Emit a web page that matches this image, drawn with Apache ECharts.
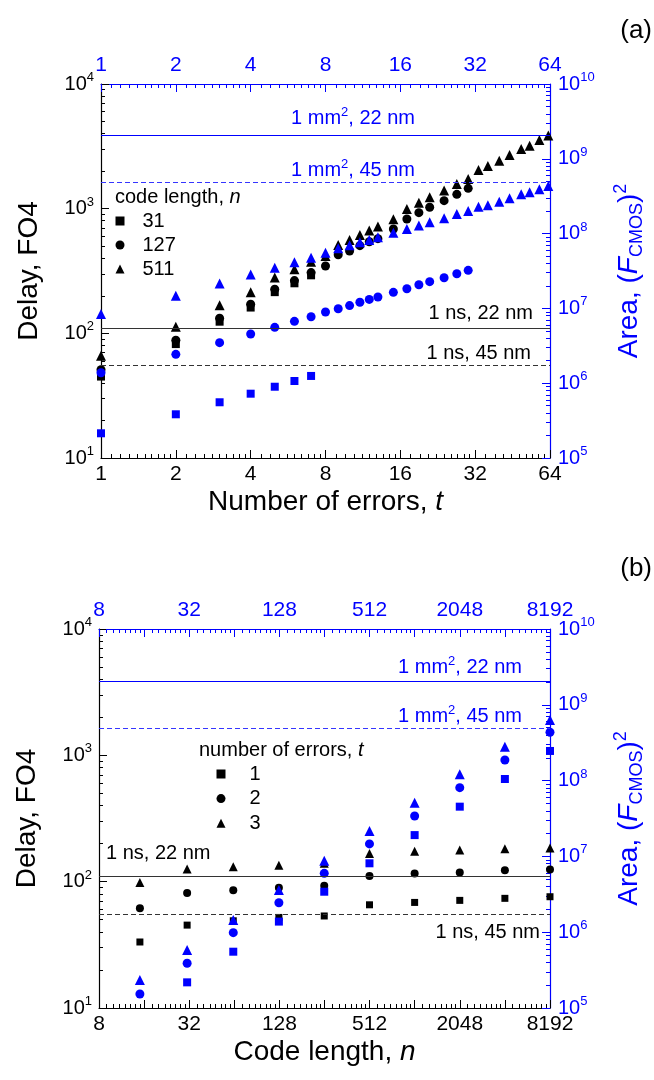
<!DOCTYPE html>
<html><head><meta charset="utf-8">
<script src="https://cdn.jsdelivr.net/npm/echarts@6/dist/echarts.min.js"></script>
<style>html,body{margin:0;padding:0;background:#fff}#c{width:654px;height:1080px}</style>
</head><body><div id="c"></div>
<script>
// ---------- DATA ----------
// Panel (a): x = number of errors t
const tN31  = [1,2,3,4,5,6,7];
const delayN31 = [45, 82, 124, 161, 214, 252, 292];
const areaN31  = [2.14e5, 3.84e5, 5.56e5, 7.24e5, 8.97e5, 1.07e6, 1.25e6];

const tN127 = [1,2,3,4,5,6,7,8,9,10,11,12,13,15,17,19,21,24,27,30];
const delayN127 = [51, 88, 132, 171, 226, 265, 307, 347, 426, 458, 505, 543, 575, 687, 826, 929, 1026, 1159, 1303, 1455];
const areaN127  = [1.38e6, 2.43e6, 3.48e6, 4.55e6, 5.58e6, 6.71e6, 7.74e6, 8.95e6, 9.91e6, 1.09e7, 1.21e7, 1.32e7, 1.42e7, 1.64e7, 1.83e7, 2.07e7, 2.28e7, 2.57e7, 2.91e7, 3.23e7];

const tN511 = [1,2,3,4,5,6,7,8,9,10,11,12,13,15,17,19,21,24,27,30,33,36,40,44,49,53,58,63];
const delayN511 = [66, 113, 168, 214, 280, 327, 376, 418, 512, 561, 615, 667, 718, 822, 995, 1117, 1233, 1396, 1578, 1730, 2042, 2198, 2427, 2698, 3013, 3199, 3556, 3855];
const areaN511  = [8.41e6, 1.48e7, 2.16e7, 2.85e7, 3.50e7, 4.13e7, 4.76e7, 5.56e7, 6.35e7, 6.97e7, 7.64e7, 8.20e7, 8.91e7, 1.03e8, 1.15e8, 1.28e8, 1.42e8, 1.60e8, 1.83e8, 2.00e8, 2.29e8, 2.39e8, 2.67e8, 2.96e8, 3.35e8, 3.56e8, 3.91e8, 4.33e8];

// Panel (b): x = code length n
const codeLengths = [15, 31, 63, 127, 255, 511, 1023, 2047, 4095, 8191];
const delayT1 = [33.3, 45.3, 49.0, 52.1, 53.5, 65.6, 68.5, 71.1, 73.8, 76.0];
const delayT2 = [61.5, 81.3, 85.7, 89.5, 92.9, 111, 116, 118, 123, 125];
const delayT3 = [98.6, 126, 131, 135, 140, 167, 174, 178, 182, 185];
const areaT1 = [null, 2.18e5, 5.53e5, 1.38e6, 3.42e6, 8.11e6, 1.91e7, 4.53e7, 1.05e8, 2.46e8];
const areaT2 = [1.53e5, 3.89e5, 9.86e5, 2.45e6, 5.98e6, 1.46e7, 3.41e7, 8.07e7, 1.87e8, 4.34e8];
const areaT3 = [2.34e5, 5.82e5, 1.45e6, 3.61e6, 8.77e6, 2.16e7, 5.11e7, 1.21e8, 2.80e8, 6.30e8];

// Reference limits
const delay1ns22 = 110, delay1ns45 = 55.5;
const area1mm22 = 2.05e9, area1mm45 = 4.9e8;

// Tick labels
const xLabelsA = [1, 2, 4, 8, 16, 32, 64];
const xLabelsB = [8, 32, 128, 512, 2048, 8192];
const legendA = ['31', '127', '511'];
const legendB = ['1', '2', '3'];

// ---------- STYLE / LAYOUT ----------
const FONT = '"Liberation Sans", Arial, Helvetica, sans-serif';
const BLUE = '#0000ff';
const BLUE_D = '#3535ff';
const BLACK = '#000000';
const GREY = '#333333';

function pairs(xs, ys) { return xs.map((x, i) => [x, ys[i]]).filter(p => p[1] != null); }

function pow2Majors(minExp, maxExp) { const r = []; for (let e = minExp; e <= maxExp; e++) r.push(Math.pow(2, e)); return r; }
function pow2Minors(minExp, maxExp, steps) {
  const r = [];
  for (let e = minExp; e < maxExp; e++) { const b = Math.pow(2, e); for (let i = 1; i < steps; i++) r.push(b * (1 + i / steps)); }
  return r;
}
function decMajors(a, b) { const r = []; for (let e = a; e <= b; e++) r.push(Math.pow(10, e)); return r; }
function decMinors(a, b) { const r = []; for (let e = a; e < b; e++) for (let k = 2; k <= 9; k++) r.push(k * Math.pow(10, e)); return r; }

const supRich = (color) => ({
  b: { fontSize: 20, lineHeight: 26, color, fontFamily: FONT },
  s: { fontSize: 13, lineHeight: 13, verticalAlign: 'top', color, fontFamily: FONT }
});
const expFmt = v => '{b|10}{s|' + Math.round(Math.log10(v)) + '}';

function makeX(gridIndex, minE, maxE, labels, minorSteps, nameRich, nameGap) {
  const min = Math.pow(2, minE), max = Math.pow(2, maxE);
  const majors = pow2Majors(minE, maxE), minors = pow2Minors(minE, maxE, minorSteps);
  const base = { gridIndex, type: 'log', logBase: 2, min, max, splitLine: { show: false }, minorTick: { show: false } };
  return [
    Object.assign({}, base, {
      position: 'bottom',
      name: nameRich, nameLocation: 'middle', nameGap,
      nameTextStyle: { fontSize: 28, color: BLACK, fontFamily: FONT,
        rich: { n: { fontSize: 28, color: BLACK, fontFamily: FONT }, i: { fontSize: 28, color: BLACK, fontFamily: FONT, fontStyle: 'italic' } } },
      axisLine: { show: true, onZero: false, lineStyle: { color: BLACK, width: 1.2 } },
      axisTick: { show: true, inside: true, length: 8, customValues: majors, lineStyle: { color: BLACK, width: 1 } },
      axisLabel: { show: true, customValues: labels, fontSize: 21, color: BLACK, fontFamily: FONT, margin: 6,
        formatter: v => String(Math.round(v)) }
    }),
    Object.assign({}, base, {
      position: 'top',
      axisLine: { show: true, onZero: false, lineStyle: { color: BLUE, width: 1.2 } },
      axisTick: { show: true, inside: true, length: 8, customValues: majors, lineStyle: { color: BLUE, width: 1 } },
      axisLabel: { show: true, customValues: labels, fontSize: 21, color: BLUE, fontFamily: FONT, margin: 8,
        formatter: v => String(Math.round(v)) }
    }),
    Object.assign({}, base, {
      position: 'bottom', axisLine: { show: false },
      axisTick: { show: true, inside: true, length: 4, customValues: minors, lineStyle: { color: BLACK, width: 1 } },
      axisLabel: { show: false }
    }),
    Object.assign({}, base, {
      position: 'top', axisLine: { show: false },
      axisTick: { show: true, inside: true, length: 4, customValues: minors, lineStyle: { color: BLUE, width: 1 } },
      axisLabel: { show: false }
    })
  ];
}

function makeY(gridIndex) {
  const base = { gridIndex, type: 'log', logBase: 10, splitLine: { show: false }, minorTick: { show: false } };
  return [
    Object.assign({}, base, {
      position: 'left', min: 10, max: 1e4,
      name: 'Delay, FO4', nameLocation: 'middle', nameGap: 58,
      nameTextStyle: { fontSize: 28, color: BLACK, fontFamily: FONT },
      axisLine: { show: true, onZero: false, lineStyle: { color: BLACK, width: 1.2 } },
      axisTick: { show: true, inside: true, length: 8, customValues: decMajors(1, 4), lineStyle: { color: BLACK } },
      axisLabel: { show: true, customValues: decMajors(1, 4), formatter: expFmt, rich: supRich(BLACK), margin: 7 }
    }),
    Object.assign({}, base, {
      position: 'right', min: 1e5, max: 1e10,
      name: '{n|Area, (}{i|F}{sub|CMOS}{n|)}{sup|2}', nameLocation: 'middle', nameGap: 62,
      nameTextStyle: { fontSize: 28, color: BLUE, fontFamily: FONT,
        rich: {
          n: { fontSize: 28, lineHeight: 34, color: BLUE, fontFamily: FONT },
          i: { fontSize: 28, lineHeight: 34, color: BLUE, fontFamily: FONT, fontStyle: 'italic' },
          sub: { fontSize: 18, lineHeight: 18, verticalAlign: 'bottom', color: BLUE, fontFamily: FONT },
          sup: { fontSize: 18, lineHeight: 18, verticalAlign: 'top', color: BLUE, fontFamily: FONT }
        } },
      axisLine: { show: true, onZero: false, lineStyle: { color: BLUE, width: 1.2 } },
      axisTick: { show: true, inside: true, length: 8, customValues: decMajors(5, 10), lineStyle: { color: BLUE } },
      axisLabel: { show: true, customValues: decMajors(5, 10), formatter: expFmt, rich: supRich(BLUE), margin: 8 }
    }),
    Object.assign({}, base, {
      position: 'left', min: 10, max: 1e4, axisLine: { show: false },
      axisTick: { show: true, inside: true, length: 4, customValues: decMinors(1, 4), lineStyle: { color: BLACK } },
      axisLabel: { show: false }
    }),
    Object.assign({}, base, {
      position: 'right', min: 1e5, max: 1e10, axisLine: { show: false },
      axisTick: { show: true, inside: true, length: 4, customValues: decMinors(5, 10), lineStyle: { color: BLUE } },
      axisLabel: { show: false }
    })
  ];
}

function scatter(name, data, xi, yi, symbol, size, color) {
  return { type: 'scatter', name, data, xAxisIndex: xi, yAxisIndex: yi, symbol, symbolSize: size,
    itemStyle: { color, opacity: 1 }, clip: true, silent: true, animation: false, emphasis: { disabled: true } };
}
// Horizontal reference line, drawn by the library at the given axis value
function refLine(value, xi, yi, color, dashed) {
  return { type: 'line', data: [], xAxisIndex: xi, yAxisIndex: yi, silent: true, animation: false,
    markLine: { silent: true, symbol: 'none', animation: false, label: { show: false },
      lineStyle: { color, width: 1.2, type: dashed ? [5, 3] : 'solid', opacity: 1 },
      emphasis: { disabled: true },
      data: [{ yAxis: value }] } };
}

const SQ = 'rect', CI = 'circle', TR = 'triangle';

const series = [
  refLine(delay1ns22, 0, 0, GREY, false), refLine(delay1ns45, 0, 0, GREY, true),
  refLine(area1mm22, 0, 1, BLUE, false), refLine(area1mm45, 0, 1, BLUE_D, true),
  refLine(delay1ns22, 4, 4, GREY, false), refLine(delay1ns45, 4, 4, GREY, true),
  refLine(area1mm22, 4, 5, BLUE, false), refLine(area1mm45, 4, 5, BLUE_D, true),
  // panel a: delay (black), axis x0 / y0
  scatter(legendA[0], pairs(tN31, delayN31), 0, 0, SQ, 8, BLACK),
  scatter(legendA[1], pairs(tN127, delayN127), 0, 0, CI, 9, BLACK),
  scatter(legendA[2], pairs(tN511, delayN511), 0, 0, TR, 10, BLACK),
  // panel a: area (blue), axis x0 / y1
  scatter('area n=31', pairs(tN31, areaN31), 0, 1, SQ, 8, BLUE),
  scatter('area n=127', pairs(tN127, areaN127), 0, 1, CI, 9, BLUE),
  scatter('area n=511', pairs(tN511, areaN511), 0, 1, TR, 10, BLUE),
  // panel b: delay (black), axis x4 / y4
  scatter(legendB[0], pairs(codeLengths, delayT1), 4, 4, SQ, 7, BLACK),
  scatter(legendB[1], pairs(codeLengths, delayT2), 4, 4, CI, 8, BLACK),
  scatter(legendB[2], pairs(codeLengths, delayT3), 4, 4, TR, 9, BLACK),
  // panel b: area (blue), axis x4 / y5
  scatter('area t=1', pairs(codeLengths, areaT1), 4, 5, SQ, 8, BLUE),
  scatter('area t=2', pairs(codeLengths, areaT2), 4, 5, CI, 9, BLUE),
  scatter('area t=3', pairs(codeLengths, areaT3), 4, 5, TR, 10, BLUE)
];

function txt(x, y, text, color, size, align, rich) {
  return { type: 'text', x, y, silent: true, z: 100,
    style: { text, fill: color, fontSize: size, fontFamily: FONT, align: align || 'center', verticalAlign: 'middle', rich } };
}
const annRich = (color) => ({
  t: { fontSize: 20, lineHeight: 24, fill: color, color, fontFamily: FONT },
  s: { fontSize: 13, lineHeight: 13, verticalAlign: 'top', fill: color, color, fontFamily: FONT },
  i: { fontSize: 20, lineHeight: 24, fill: color, color, fontFamily: FONT, fontStyle: 'italic' }
});
const mm22 = '{t|1 mm}{s|2}{t|, 22 nm}', mm45 = '{t|1 mm}{s|2}{t|, 45 nm}';

const graphic = [
  txt(652, 31, '(a)', BLACK, 26, 'right'),
  txt(652, 569, '(b)', BLACK, 26, 'right'),
  txt(115, 197, '{t|code length, }{i|n}', BLACK, 20, 'left', annRich(BLACK)),
  txt(199, 750, '{t|number of errors, }{i|t}', BLACK, 20, 'left', annRich(BLACK)),
  txt(353, 118, mm22, BLUE, 20, 'center', annRich(BLUE)),
  txt(353, 170, mm45, BLUE, 20, 'center', annRich(BLUE)),
  txt(533, 313, '{t|1 ns, 22 nm}', BLACK, 20, 'right', annRich(BLACK)),
  txt(531, 353, '{t|1 ns, 45 nm}', BLACK, 20, 'right', annRich(BLACK)),
  txt(522, 667, mm22, BLUE, 20, 'right', annRich(BLUE)),
  txt(522, 716, mm45, BLUE, 20, 'right', annRich(BLUE)),
  txt(106, 853, '{t|1 ns, 22 nm}', BLACK, 20, 'left', annRich(BLACK)),
  txt(540, 932, '{t|1 ns, 45 nm}', BLACK, 20, 'right', annRich(BLACK))
];

const legendBase = { orient: 'vertical', itemWidth: 9, itemHeight: 9, selectedMode: false, symbolKeepAspect: true, padding: 0 };

const option = {
  animation: false,
  backgroundColor: '#ffffff',
  textStyle: { fontFamily: FONT },
  grid: [
    { left: 101, top: 84, width: 459, height: 374, containLabel: false },
    { left: 99, top: 629, width: 462, height: 379, containLabel: false }
  ],
  xAxis: [].concat(
    makeX(0, 0, 6, xLabelsA, 10, '{n|Number of errors, }{i|t}', 30),
    makeX(1, 3, 13, xLabelsB, 8, '{n|Code length, }{i|n}', 30)
  ),
  yAxis: [].concat(makeY(0), makeY(1)),
  legend: [
    Object.assign({}, legendBase, { data: legendA, left: 115.5, top: 211, itemGap: 4,
      textStyle: { fontSize: 20, lineHeight: 20, color: BLACK, fontFamily: FONT, padding: [0, 0, 0, 13] } }),
    Object.assign({}, legendBase, { data: legendB, left: 216.5, top: 764, itemGap: 4.6,
      textStyle: { fontSize: 20, lineHeight: 20, color: BLACK, fontFamily: FONT, padding: [0, 0, 0, 19] } })
  ],
  series,
  graphic
};

const chart = echarts.init(document.getElementById('c'), null, { renderer: 'canvas' });
chart.setOption(option);
</script>
</body></html>
